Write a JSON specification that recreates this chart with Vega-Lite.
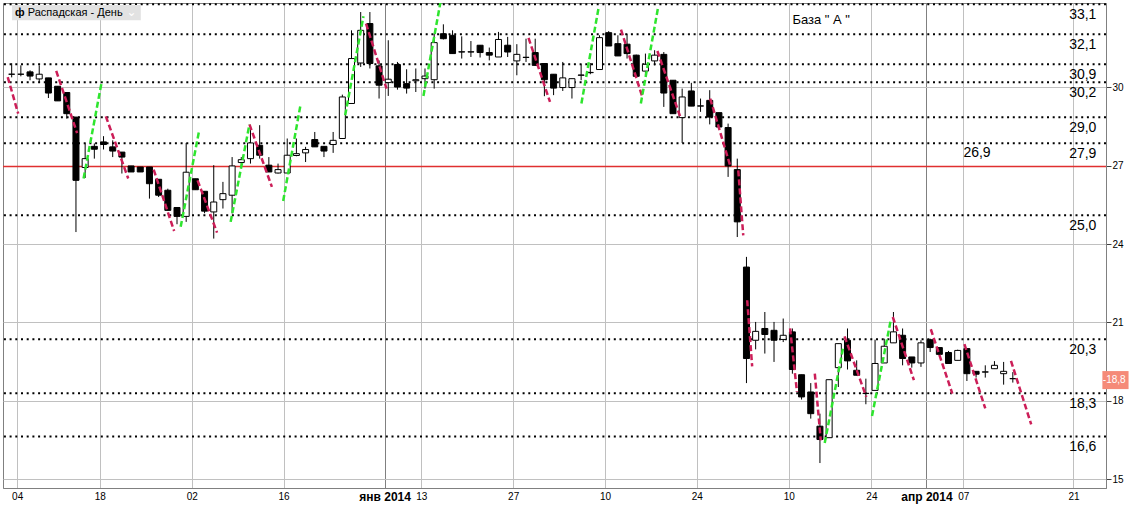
{
  "$schema": "https://vega.github.io/schema/vega-lite/v6.json",
  "width": 1103,
  "height": 485,
  "autosize": {"type": "none"},
  "padding": {"left": 3, "top": 3, "right": 26, "bottom": 22},
  "background": "white",
  "config": {"font": "Liberation Sans", "view": {"stroke": "#808080"}},
  "datasets": {
    "candles": [
      {"k":0,"o":30.5,"c":30.5,"h":30.92,"l":30.38},
      {"k":1,"o":30.5,"c":30.5,"h":30.84,"l":30.42},
      {"k":2,"o":30.59,"c":30.43,"h":30.65,"l":30.27},
      {"k":3,"o":30.32,"c":30.5,"h":30.84,"l":30.2},
      {"k":4,"o":30.36,"c":29.78,"h":30.36,"l":29.59},
      {"k":5,"o":30.04,"c":29.48,"h":30.04,"l":29.48},
      {"k":6,"o":29.8,"c":28.99,"h":29.8,"l":28.8},
      {"k":7,"o":28.86,"c":26.44,"h":28.86,"l":24.46},
      {"k":8,"o":26.93,"c":27.27,"h":27.85,"l":26.53},
      {"k":9,"o":27.74,"c":27.63,"h":27.85,"l":27.27},
      {"k":10,"o":27.91,"c":27.81,"h":28.13,"l":27.62},
      {"k":11,"o":27.72,"c":27.56,"h":27.97,"l":27.33},
      {"k":12,"o":27.52,"c":27.33,"h":27.52,"l":26.7},
      {"k":13,"o":26.99,"c":26.76,"h":26.99,"l":26.76},
      {"k":14,"o":26.95,"c":26.76,"h":26.95,"l":26.76},
      {"k":15,"o":26.95,"c":26.31,"h":26.95,"l":25.74},
      {"k":16,"o":26.48,"c":25.87,"h":26.48,"l":25.8},
      {"k":17,"o":26.06,"c":25.29,"h":26.12,"l":25.29},
      {"k":18,"o":25.4,"c":25.06,"h":25.4,"l":24.76},
      {"k":19,"o":25.06,"c":26.75,"h":27.87,"l":24.85},
      {"k":20,"o":26.5,"c":26.08,"h":26.5,"l":26.08},
      {"k":21,"o":26.02,"c":25.26,"h":26.02,"l":25.18},
      {"k":22,"o":25.23,"c":25.61,"h":27.02,"l":24.21},
      {"k":23,"o":25.7,"c":25.93,"h":26.38,"l":25.36},
      {"k":24,"o":25.87,"c":26.99,"h":27.33,"l":25.17},
      {"k":25,"o":27.12,"c":27.23,"h":27.33,"l":26.95},
      {"k":26,"o":27.27,"c":27.87,"h":28.48,"l":27.08},
      {"k":27,"o":27.78,"c":27.4,"h":28.55,"l":27.27},
      {"k":28,"o":27.02,"c":26.76,"h":27.33,"l":26.76},
      {"k":29,"o":26.72,"c":26.85,"h":27.08,"l":26.7},
      {"k":30,"o":26.72,"c":27.4,"h":28.04,"l":26.72},
      {"k":31,"o":27.39,"c":27.46,"h":28.04,"l":27.36},
      {"k":32,"o":27.49,"c":27.62,"h":27.72,"l":27.14},
      {"k":33,"o":28.0,"c":27.72,"h":28.29,"l":27.72},
      {"k":34,"o":27.74,"c":27.56,"h":27.74,"l":27.33},
      {"k":35,"o":27.81,"c":27.97,"h":28.29,"l":27.49},
      {"k":36,"o":28.04,"c":29.63,"h":29.72,"l":28.04},
      {"k":37,"o":29.38,"c":31.1,"h":32.18,"l":29.38},
      {"k":38,"o":30.93,"c":32.18,"h":32.88,"l":30.78},
      {"k":39,"o":32.44,"c":30.91,"h":32.88,"l":30.72},
      {"k":40,"o":30.82,"c":30.08,"h":31.03,"l":29.57},
      {"k":41,"o":30.18,"c":30.31,"h":31.8,"l":29.67},
      {"k":42,"o":30.87,"c":30.01,"h":30.97,"l":29.91},
      {"k":43,"o":30.14,"c":29.97,"h":30.69,"l":29.76},
      {"k":44,"o":30.25,"c":30.29,"h":30.72,"l":29.82},
      {"k":45,"o":30.33,"c":30.43,"h":30.72,"l":29.95},
      {"k":46,"o":30.29,"c":31.71,"h":32.05,"l":29.95},
      {"k":47,"o":32.05,"c":31.86,"h":32.41,"l":31.83},
      {"k":48,"o":31.99,"c":31.29,"h":32.18,"l":31.29},
      {"k":49,"o":31.35,"c":31.36,"h":31.95,"l":31.1},
      {"k":50,"o":31.35,"c":31.36,"h":31.77,"l":31.16},
      {"k":51,"o":31.61,"c":31.33,"h":31.61,"l":31.14},
      {"k":52,"o":31.33,"c":31.23,"h":31.52,"l":31.03},
      {"k":53,"o":31.16,"c":31.83,"h":32.12,"l":31.16},
      {"k":54,"o":31.61,"c":31.35,"h":31.93,"l":31.16},
      {"k":55,"o":31.01,"c":31.26,"h":31.65,"l":30.46},
      {"k":56,"o":31.14,"c":31.15,"h":31.86,"l":30.97},
      {"k":57,"o":31.33,"c":30.84,"h":31.86,"l":30.84},
      {"k":58,"o":30.91,"c":30.29,"h":30.91,"l":29.66},
      {"k":59,"o":30.5,"c":29.97,"h":30.5,"l":29.7},
      {"k":60,"o":29.99,"c":30.36,"h":30.97,"l":29.86},
      {"k":61,"o":29.99,"c":30.33,"h":30.33,"l":29.57},
      {"k":62,"o":30.46,"c":30.47,"h":30.88,"l":30.27},
      {"k":63,"o":30.56,"c":30.57,"h":30.93,"l":30.5},
      {"k":64,"o":30.68,"c":31.9,"h":31.99,"l":30.68},
      {"k":65,"o":32.09,"c":31.58,"h":32.15,"l":31.58},
      {"k":66,"o":31.67,"c":31.2,"h":31.99,"l":31.2},
      {"k":67,"o":31.65,"c":31.29,"h":32.05,"l":31.1},
      {"k":68,"o":31.23,"c":30.42,"h":31.25,"l":30.42},
      {"k":69,"o":30.62,"c":30.88,"h":31.29,"l":30.46},
      {"k":70,"o":31.01,"c":31.23,"h":31.42,"l":30.84},
      {"k":71,"o":31.26,"c":29.78,"h":31.35,"l":29.25},
      {"k":72,"o":30.27,"c":28.99,"h":30.27,"l":28.99},
      {"k":73,"o":28.84,"c":29.63,"h":29.95,"l":27.87},
      {"k":74,"o":29.86,"c":29.28,"h":30.17,"l":29.28},
      {"k":75,"o":29.28,"c":29.29,"h":29.57,"l":29.06},
      {"k":76,"o":29.5,"c":28.86,"h":29.89,"l":28.58},
      {"k":77,"o":29.03,"c":28.48,"h":29.03,"l":28.48},
      {"k":78,"o":28.46,"c":26.99,"h":28.61,"l":26.57},
      {"k":79,"o":26.85,"c":24.85,"h":27.27,"l":24.27},
      {"k":80,"o":23.12,"c":19.62,"h":23.51,"l":18.68},
      {"k":81,"o":20.32,"c":20.66,"h":21.02,"l":19.97},
      {"k":82,"o":20.77,"c":20.54,"h":21.4,"l":19.81},
      {"k":83,"o":20.7,"c":20.32,"h":21.02,"l":19.49},
      {"k":84,"o":20.35,"c":20.51,"h":21.15,"l":20.25},
      {"k":85,"o":20.64,"c":19.2,"h":20.77,"l":19.04},
      {"k":86,"o":19.0,"c":18.15,"h":19.0,"l":18.05},
      {"k":87,"o":18.34,"c":17.51,"h":18.68,"l":17.32},
      {"k":88,"o":17.03,"c":16.52,"h":17.51,"l":15.62},
      {"k":89,"o":16.59,"c":18.81,"h":18.81,"l":16.59},
      {"k":90,"o":19.27,"c":20.19,"h":20.19,"l":18.53},
      {"k":91,"o":20.32,"c":19.53,"h":20.77,"l":19.2},
      {"k":92,"o":19.17,"c":18.98,"h":19.55,"l":18.98},
      {"k":93,"o":18.28,"c":18.29,"h":18.85,"l":17.87},
      {"k":94,"o":18.4,"c":19.43,"h":20.34,"l":18.4},
      {"k":95,"o":19.45,"c":20.09,"h":20.38,"l":19.45},
      {"k":96,"o":20.22,"c":20.64,"h":21.4,"l":20.22},
      {"k":97,"o":20.51,"c":19.62,"h":20.77,"l":19.36},
      {"k":98,"o":19.68,"c":19.45,"h":19.68,"l":19.27},
      {"k":99,"o":19.45,"c":20.22,"h":20.32,"l":19.3},
      {"k":100,"o":20.34,"c":20.04,"h":20.38,"l":19.87},
      {"k":101,"o":20.04,"c":19.78,"h":20.04,"l":19.74},
      {"k":102,"o":19.85,"c":19.43,"h":19.91,"l":19.43},
      {"k":103,"o":19.55,"c":19.93,"h":19.96,"l":19.55},
      {"k":104,"o":20.0,"c":19.04,"h":20.0,"l":18.76},
      {"k":105,"o":19.13,"c":19.02,"h":19.13,"l":18.89},
      {"k":106,"o":19.1,"c":19.11,"h":19.36,"l":18.89},
      {"k":107,"o":19.23,"c":19.36,"h":19.52,"l":19.23},
      {"k":108,"o":19.04,"c":19.13,"h":19.49,"l":18.62},
      {"k":109,"o":18.85,"c":18.85,"h":19.1,"l":18.7}
    ],
    "segs": [
      {"id":"C1","dir":"down","k":-0.43,"v":30.39},{"id":"C1","dir":"down","k":0.71,"v":28.99},
      {"id":"C2","dir":"down","k":4.85,"v":30.63},{"id":"C2","dir":"down","k":7.12,"v":28.25},
      {"id":"C3","dir":"down","k":10.25,"v":28.89},{"id":"C3","dir":"down","k":12.69,"v":26.51},
      {"id":"C4","dir":"down","k":15.46,"v":26.85},{"id":"C4","dir":"down","k":17.69,"v":24.5},
      {"id":"C5","dir":"down","k":20.24,"v":26.44},{"id":"C5","dir":"down","k":22.36,"v":24.44},
      {"id":"C6","dir":"down","k":25.89,"v":28.58},{"id":"C6","dir":"down","k":28.33,"v":26.19},
      {"id":"C7","dir":"down","k":38.58,"v":32.44},{"id":"C7","dir":"down","k":40.81,"v":29.95},
      {"id":"C8","dir":"down","k":56.27,"v":31.89},{"id":"C8","dir":"down","k":58.61,"v":29.44},
      {"id":"C9","dir":"down","k":66.34,"v":32.21},{"id":"C9","dir":"down","k":68.61,"v":29.69},
      {"id":"C10","dir":"down","k":70.3,"v":31.39},{"id":"C10","dir":"down","k":72.8,"v":28.86},
      {"id":"C11","dir":"down","k":76.05,"v":29.57},{"id":"C11","dir":"down","k":78.21,"v":27.02},
      {"id":"C12","dir":"down","k":79.11,"v":26.82},{"id":"C12","dir":"down","k":79.65,"v":24.33},
      {"id":"C13","dir":"down","k":80.08,"v":21.85},{"id":"C13","dir":"down","k":80.62,"v":19.32},
      {"id":"C14","dir":"down","k":84.75,"v":20.77},{"id":"C14","dir":"down","k":85.5,"v":18.34},
      {"id":"C15","dir":"down","k":87.44,"v":19.04},{"id":"C15","dir":"down","k":88.09,"v":16.49},
      {"id":"C16","dir":"down","k":90.68,"v":20.47},{"id":"C16","dir":"down","k":93.05,"v":18.15},
      {"id":"C17","dir":"down","k":95.93,"v":21.21},{"id":"C17","dir":"down","k":98.23,"v":18.79},
      {"id":"C18","dir":"down","k":100.07,"v":20.74},{"id":"C18","dir":"down","k":102.41,"v":18.28},
      {"id":"C19","dir":"down","k":103.73,"v":20.17},{"id":"C19","dir":"down","k":106.0,"v":17.71},
      {"id":"C20","dir":"down","k":108.8,"v":19.53},{"id":"C20","dir":"down","k":111.0,"v":17.1},
      {"id":"G1","dir":"up","k":7.83,"v":26.51},{"id":"G1","dir":"up","k":9.82,"v":30.24},
      {"id":"G2","dir":"up","k":18.4,"v":24.66},{"id":"G2","dir":"up","k":20.42,"v":28.36},
      {"id":"G3","dir":"up","k":23.84,"v":24.85},{"id":"G3","dir":"up","k":25.89,"v":28.58},
      {"id":"G4","dir":"up","k":29.56,"v":25.65},{"id":"G4","dir":"up","k":31.46,"v":29.35},
      {"id":"G5","dir":"up","k":36.31,"v":28.93},{"id":"G5","dir":"up","k":38.3,"v":32.72},
      {"id":"G6","dir":"up","k":44.83,"v":29.67},{"id":"G6","dir":"up","k":46.67,"v":33.23},
      {"id":"G7","dir":"up","k":62.03,"v":29.38},{"id":"G7","dir":"up","k":63.93,"v":33.1},
      {"id":"G8","dir":"up","k":68.5,"v":29.38},{"id":"G8","dir":"up","k":70.4,"v":33.1},
      {"id":"G9","dir":"up","k":88.52,"v":16.39},{"id":"G9","dir":"up","k":90.54,"v":20.06},
      {"id":"G10","dir":"up","k":93.67,"v":17.42},{"id":"G10","dir":"up","k":95.72,"v":21.11}
    ],
    "levels": [
      {"price":33.18,"label":"33,1"},
      {"price":32.03,"label":"32,1"},
      {"price":30.88,"label":"30,9"},
      {"price":30.19,"label":"30,2"},
      {"price":28.85,"label":"29,0"},
      {"price":27.86,"label":"27,9"},
      {"price":25.1,"label":"25,0"},
      {"price":20.36,"label":"20,3"},
      {"price":18.29,"label":"18,3"},
      {"price":16.64,"label":"16,6"}
    ]
  },
  "data": {"name": "candles"},
  "layer": [
    {
      "data": {"name": "candles"},
      "mark": {"type": "rule", "color": "white", "opacity": 0},
      "encoding": {
        "x": {"field": "k", "type": "quantitative", "title": null, "scale": {"domain": [-0.4, 118.6], "nice": false, "zero": false},
          "axis": {
            "title": null,
            "values": [0.6, 9.6, 19.6, 29.6, 40.6, 44.6, 54.6, 64.6, 74.6, 84.6, 93.6, 99.6, 103.6, 115.6],
            "labelExpr": "['04','18','02','16','янв 2014','13','27','10','24','10','24','апр 2014','07','21'][indexof([0.6, 9.6, 19.6, 29.6, 40.6, 44.6, 54.6, 64.6, 74.6, 84.6, 93.6, 99.6, 103.6, 115.6], datum.value)]",
            "grid": true,
            "gridColor": {"condition": {"test": "datum.value == 40.6 || datum.value == 99.6", "value": "#808080"}, "value": "#c0c0c0"},
            "ticks": false,
            "labelFontWeight": {"condition": {"test": "datum.value == 40.6 || datum.value == 99.6", "value": "bold"}, "value": "normal"},
            "labelFontSize": {"condition": {"test": "datum.value == 40.6 || datum.value == 99.6", "value": 12}, "value": 10},
            "labelPadding": 3,
            "labelColor": "#000000",
            "labelOverlap": false,
            "labelFlush": false,
            "domainColor": "#808080",
            "labelFont": "Liberation Sans"
          }},
        "y": {"field": "h", "type": "quantitative", "title": null, "scale": {"domain": [14.665, 33.226], "nice": false, "zero": false},
          "axis": {"title": null, "orient": "right", "values": [15, 18, 21, 24, 27, 30], "grid": true, "gridColor": "#c0c0c0", "tickSize": 5, "tickColor": "#404040", "labelFontSize": 10, "labelPadding": 1, "labelColor": "#000000", "domainColor": "#808080", "labelFont": "Liberation Sans"}}
      }
    },
    {
      "mark": {"type": "rule", "color": "#e03030", "strokeWidth": 1.5},
      "data": {"values": [{"price": 26.97, "label": "26,9"}]},
      "encoding": {
        "y": {"field": "price", "type": "quantitative", "title": null, "scale": {"domain": [14.665, 33.226], "nice": false, "zero": false}}
      }
    },
    {
      "data": {"name": "levels"},
      "mark": {"type": "rule", "color": "#000000", "strokeWidth": 2, "strokeDash": [2, 3.7]},
      "encoding": {
        "y": {"field": "price", "type": "quantitative", "title": null, "scale": {"domain": [14.665, 33.226], "nice": false, "zero": false}}
      }
    },
    {
      "data": {"name": "candles"},
      "mark": {"type": "rule", "color": "#000000", "strokeWidth": 1},
      "encoding": {
        "x": {"field": "k", "type": "quantitative", "title": null, "scale": {"domain": [-0.4, 118.6], "nice": false, "zero": false}},
        "y": {"field": "l", "type": "quantitative", "title": null, "scale": {"domain": [14.665, 33.226], "nice": false, "zero": false}},
        "y2": {"field": "h"}
      }
    },
    {
      "data": {"name": "candles"},
      "mark": {"type": "bar", "size": 6, "stroke": "#000000", "strokeWidth": 1, "orient": "vertical"},
      "encoding": {
        "x": {"field": "k", "type": "quantitative", "title": null, "scale": {"domain": [-0.4, 118.6], "nice": false, "zero": false}},
        "y": {"field": "o", "type": "quantitative", "title": null, "scale": {"domain": [14.665, 33.226], "nice": false, "zero": false}},
        "y2": {"field": "c"},
        "fill": {"condition": {"test": "datum.c >= datum.o", "value": "#ffffff"}, "value": "#000000"}
      }
    },
    {
      "data": {"name": "segs"},
      "mark": {"type": "line", "strokeWidth": 2.5, "strokeDash": [6, 3], "clip": true},
      "encoding": {
        "x": {"field": "k", "type": "quantitative", "title": null, "scale": {"domain": [-0.4, 118.6], "nice": false, "zero": false}},
        "y": {"field": "v", "type": "quantitative", "title": null, "scale": {"domain": [14.665, 33.226], "nice": false, "zero": false}},
        "detail": {"field": "id"},
        "color": {"field": "dir", "type": "nominal", "scale": {"domain": ["up", "down"], "range": ["#2ee52e", "#cc1e58"]}, "legend": null}
      }
    },
    {
      "data": {"name": "levels"},
      "mark": {"type": "text", "align": "right", "baseline": "middle", "dy": 11, "fontSize": 14, "font": "Liberation Sans", "color": "#000000"},
      "encoding": {
        "x": {"datum": 118.1, "type": "quantitative", "title": null, "scale": {"domain": [-0.4, 118.6], "nice": false, "zero": false}},
        "y": {"field": "price", "type": "quantitative", "title": null, "scale": {"domain": [14.665, 33.226], "nice": false, "zero": false}},
        "text": {"field": "label"}
      }
    },
    {
      "data": {"values": [{"price": 26.97, "label": "26,9"}]},
      "mark": {"type": "text", "align": "center", "baseline": "middle", "dy": -13, "fontSize": 14, "font": "Liberation Sans", "color": "#000000"},
      "encoding": {
        "x": {"datum": 105.1, "type": "quantitative", "title": null, "scale": {"domain": [-0.4, 118.6], "nice": false, "zero": false}},
        "y": {"field": "price", "type": "quantitative", "title": null, "scale": {"domain": [14.665, 33.226], "nice": false, "zero": false}},
        "text": {"field": "label"}
      }
    },
    {
      "data": {"values": [{"label": "База \" А \""}]},
      "mark": {"type": "text", "align": "left", "baseline": "middle", "fontSize": 13, "font": "Liberation Sans", "color": "#000000"},
      "encoding": {
        "x": {"datum": 85.0, "type": "quantitative", "title": null, "scale": {"domain": [-0.4, 118.6], "nice": false, "zero": false}},
        "y": {"datum": 32.58, "type": "quantitative", "title": null, "scale": {"domain": [14.665, 33.226], "nice": false, "zero": false}},
        "text": {"field": "label"}
      }
    },
    {
      "data": {"values": [{"label": "Распадская - День"}]},
      "mark": {"type": "rect", "fill": "#e2e2e2"},
      "encoding": {
        "x": {"datum": 0.03, "type": "quantitative", "title": null, "scale": {"domain": [-0.4, 118.6], "nice": false, "zero": false}},
        "x2": {"datum": 14.06},
        "y": {"datum": 33.15, "type": "quantitative", "title": null, "scale": {"domain": [14.665, 33.226], "nice": false, "zero": false}},
        "y2": {"datum": 32.57}
      }
    },
    {
      "data": {"values": [{"label": "Распадская - День"}]},
      "mark": {"type": "text", "align": "left", "baseline": "middle", "fontSize": 11, "font": "Liberation Sans", "color": "#000000"},
      "encoding": {
        "x": {"datum": 1.75, "type": "quantitative", "title": null, "scale": {"domain": [-0.4, 118.6], "nice": false, "zero": false}},
        "y": {"datum": 32.85, "type": "quantitative", "title": null, "scale": {"domain": [14.665, 33.226], "nice": false, "zero": false}},
        "text": {"field": "label"}
      }
    },
    {
      "data": {"values": [{"label": "ф"}]},
      "mark": {"type": "text", "align": "left", "baseline": "middle", "fontSize": 11, "fontWeight": "bold", "font": "Liberation Sans", "color": "#000000"},
      "encoding": {
        "x": {"datum": 0.35, "type": "quantitative", "title": null, "scale": {"domain": [-0.4, 118.6], "nice": false, "zero": false}},
        "y": {"datum": 32.85, "type": "quantitative", "title": null, "scale": {"domain": [14.665, 33.226], "nice": false, "zero": false}},
        "text": {"field": "label"}
      }
    },
    {
      "data": {"values": [{"label": "⌄"}]},
      "mark": {"type": "text", "align": "left", "baseline": "middle", "fontSize": 12, "font": "DejaVu Sans", "color": "#ffffff"},
      "encoding": {
        "x": {"datum": 12.5, "type": "quantitative", "title": null, "scale": {"domain": [-0.4, 118.6], "nice": false, "zero": false}},
        "y": {"datum": 32.9, "type": "quantitative", "title": null, "scale": {"domain": [14.665, 33.226], "nice": false, "zero": false}},
        "text": {"field": "label"}
      }
    },
    {
      "data": {"values": [{"last": 18.8, "label": "-18,8"}]},
      "mark": {"type": "rect", "fill": "#f58a78"},
      "encoding": {
        "x": {"datum": 118.75, "type": "quantitative", "title": null, "scale": {"domain": [-0.4, 118.6], "nice": false, "zero": false}},
        "x2": {"datum": 121.6},
        "y": {"datum": 19.14, "type": "quantitative", "title": null, "scale": {"domain": [14.665, 33.226], "nice": false, "zero": false}},
        "y2": {"datum": 18.45}
      }
    },
    {
      "data": {"values": [{"last": 18.8, "label": "-18,8"}]},
      "mark": {"type": "text", "align": "left", "baseline": "middle", "fontSize": 10, "font": "Liberation Sans", "color": "#ffffff"},
      "encoding": {
        "x": {"datum": 118.8, "type": "quantitative", "title": null, "scale": {"domain": [-0.4, 118.6], "nice": false, "zero": false}},
        "y": {"field": "last", "type": "quantitative", "title": null, "scale": {"domain": [14.665, 33.226], "nice": false, "zero": false}},
        "text": {"field": "label"}
      }
    }
  ]
}
